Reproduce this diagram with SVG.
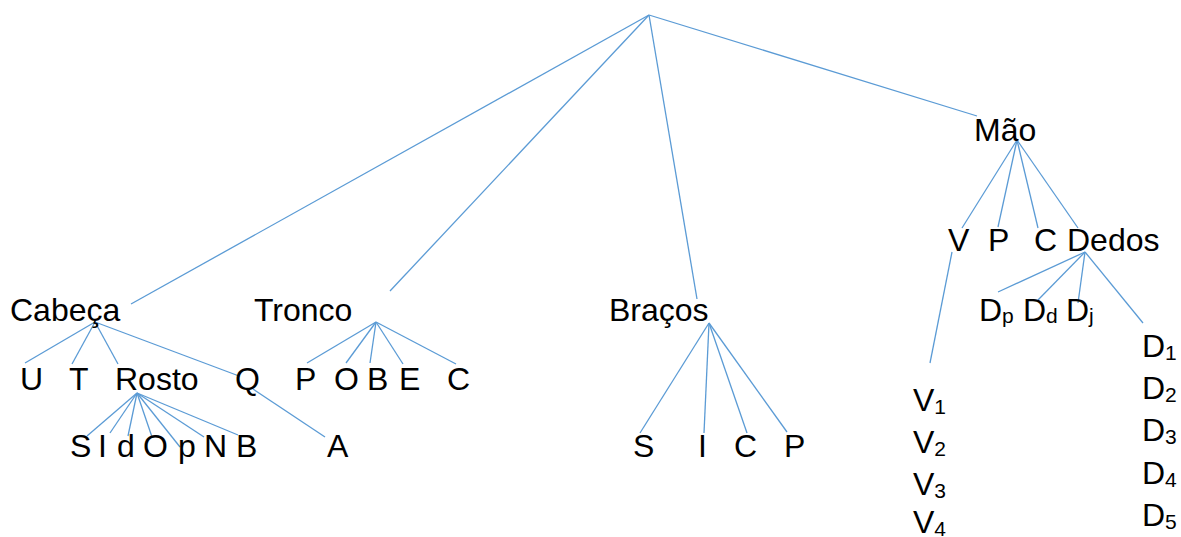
<svg xmlns="http://www.w3.org/2000/svg" width="1181" height="537" viewBox="0 0 1181 537">
  <style>
    .lbl { font-family: "Liberation Sans", Arial, sans-serif; font-size: 32px; fill: #000; }
    .sub { font-size: 21px; }
    .edge { stroke: #5B9BD5; stroke-width: 1.3; fill: none; }
  </style>
  <rect width="1181" height="537" fill="#fff"/>

  <!-- connectors -->
  <g id="connectors" class="edge">
    <line x1="649" y1="15" x2="131" y2="304"/>
    <line x1="649" y1="15" x2="390" y2="291"/>
    <line x1="649" y1="15" x2="697" y2="299"/>
    <line x1="649" y1="15" x2="977" y2="116"/>
    <!-- Cabeça -->
    <line x1="95" y1="322" x2="25" y2="363"/>
    <line x1="95" y1="322" x2="72" y2="364"/>
    <line x1="95" y1="322" x2="118" y2="364"/>
    <line x1="95" y1="322" x2="239" y2="376"/>
    <line x1="253" y1="389" x2="325" y2="437"/>
    <!-- Rosto -->
    <line x1="137" y1="393" x2="87" y2="436"/>
    <line x1="137" y1="393" x2="110" y2="433"/>
    <line x1="137" y1="393" x2="128" y2="436"/>
    <line x1="137" y1="393" x2="152" y2="437"/>
    <line x1="137" y1="393" x2="180" y2="447"/>
    <line x1="137" y1="393" x2="204" y2="437"/>
    <line x1="137" y1="393" x2="238" y2="435"/>
    <!-- Tronco -->
    <line x1="376" y1="322" x2="307" y2="363"/>
    <line x1="376" y1="322" x2="346" y2="363"/>
    <line x1="376" y1="322" x2="370" y2="363"/>
    <line x1="376" y1="322" x2="403" y2="364"/>
    <line x1="376" y1="322" x2="456" y2="364"/>
    <!-- Braços -->
    <line x1="709" y1="323" x2="640" y2="433"/>
    <line x1="709" y1="323" x2="704" y2="433"/>
    <line x1="709" y1="323" x2="747" y2="433"/>
    <line x1="709" y1="323" x2="787" y2="432"/>
    <!-- Mão -->
    <line x1="1017" y1="140" x2="962" y2="228"/>
    <line x1="1017" y1="140" x2="998" y2="227"/>
    <line x1="1017" y1="140" x2="1038" y2="228"/>
    <line x1="1017" y1="140" x2="1078" y2="228"/>
    <line x1="952" y1="252" x2="930" y2="363"/>
    <!-- Dedos -->
    <line x1="1085" y1="252" x2="998" y2="292"/>
    <line x1="1085" y1="252" x2="1038" y2="300"/>
    <line x1="1085" y1="252" x2="1078" y2="303"/>
    <line x1="1085" y1="252" x2="1143" y2="323"/>
  </g>

  <!-- top level -->
  <g id="cabeca"><text class="lbl" x="10" y="321">Cabeça</text></g>
  <g id="tronco"><text class="lbl" x="254" y="321">Tronco</text></g>
  <g id="bracos"><text class="lbl" x="609" y="321">Braços</text></g>
  <g id="mao"><text class="lbl" x="974" y="141">Mão</text></g>

  <!-- Cabeça children -->
  <g id="cab-u"><text class="lbl" x="20" y="390">U</text></g>
  <g id="cab-t"><text class="lbl" x="69" y="390">T</text></g>
  <g id="rosto"><text class="lbl" x="115" y="390">Rosto</text></g>
  <g id="cab-q"><text class="lbl" x="235" y="390">Q</text></g>
  <g id="q-a"><text class="lbl" x="327" y="457">A</text></g>

  <!-- Rosto children -->
  <g id="ros-s"><text class="lbl" x="70" y="457">S</text></g>
  <g id="ros-i"><text class="lbl" x="98" y="457">I</text></g>
  <g id="ros-d"><text class="lbl" x="117" y="457">d</text></g>
  <g id="ros-o"><text class="lbl" x="143" y="457">O</text></g>
  <g id="ros-p"><text class="lbl" x="178" y="457">p</text></g>
  <g id="ros-n"><text class="lbl" x="204" y="457">N</text></g>
  <g id="ros-b"><text class="lbl" x="236" y="457">B</text></g>

  <!-- Tronco children -->
  <g id="tro-p"><text class="lbl" x="295" y="390">P</text></g>
  <g id="tro-o"><text class="lbl" x="334" y="390">O</text></g>
  <g id="tro-b"><text class="lbl" x="367" y="390">B</text></g>
  <g id="tro-e"><text class="lbl" x="399" y="390">E</text></g>
  <g id="tro-c"><text class="lbl" x="447" y="390">C</text></g>

  <!-- Braços children -->
  <g id="bra-s"><text class="lbl" x="633" y="457">S</text></g>
  <g id="bra-i"><text class="lbl" x="698" y="457">I</text></g>
  <g id="bra-c"><text class="lbl" x="734" y="457">C</text></g>
  <g id="bra-p"><text class="lbl" x="784" y="457">P</text></g>

  <!-- Mão children -->
  <g id="mao-v"><text class="lbl" x="948" y="251">V</text></g>
  <g id="mao-p"><text class="lbl" x="988" y="251">P</text></g>
  <g id="mao-c"><text class="lbl" x="1034" y="251">C</text></g>
  <g id="dedos"><text class="lbl" x="1067" y="251">Dedos</text></g>

  <!-- V series -->
  <g id="v1"><text class="lbl" x="913" y="411">V<tspan class="sub" dy="3">1</tspan></text></g>
  <g id="v2"><text class="lbl" x="913" y="453">V<tspan class="sub" dy="3">2</tspan></text></g>
  <g id="v3"><text class="lbl" x="913" y="495">V<tspan class="sub" dy="3">3</tspan></text></g>
  <g id="v4"><text class="lbl" x="913" y="533">V<tspan class="sub" dy="3">4</tspan></text></g>

  <!-- Dedos children -->
  <g id="d-p"><text class="lbl" x="979" y="321">D<tspan class="sub" dy="2">p</tspan></text></g>
  <g id="d-d"><text class="lbl" x="1023" y="321">D<tspan class="sub" dy="2">d</tspan></text></g>
  <g id="d-j"><text class="lbl" x="1066" y="321">D<tspan class="sub" dy="2">j</tspan></text></g>

  <g id="d1"><text class="lbl" x="1142" y="357">D<tspan class="sub" dy="3">1</tspan></text></g>
  <g id="d2"><text class="lbl" x="1142" y="399">D<tspan class="sub" dy="3">2</tspan></text></g>
  <g id="d3"><text class="lbl" x="1142" y="441">D<tspan class="sub" dy="3">3</tspan></text></g>
  <g id="d4"><text class="lbl" x="1142" y="484">D<tspan class="sub" dy="3">4</tspan></text></g>
  <g id="d5"><text class="lbl" x="1142" y="526">D<tspan class="sub" dy="3">5</tspan></text></g>
</svg>
